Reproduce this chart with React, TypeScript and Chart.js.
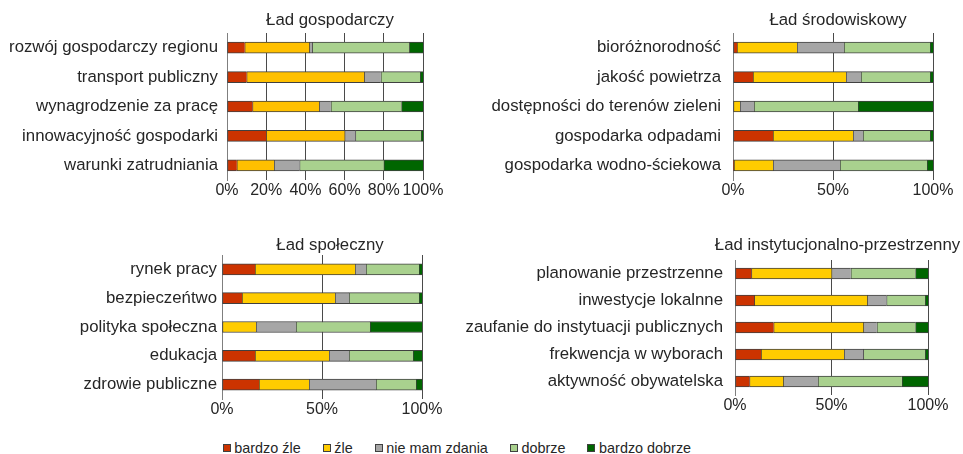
import React, { useEffect, useRef } from 'react';
import { Chart, registerables } from 'chart.js';

Chart.register(...registerables);

const FONT = "'Liberation Sans', Arial, Helvetica, sans-serif";
const TEXT_COLOR = '#262626';

const SERIES_NAMES = ['bardzo źle', 'źle', 'nie mam zdania', 'dobrze', 'bardzo dobrze'];
const COLORS = ['#CC3300', '#FFCC00', '#A6A6A6', '#A9D18E', '#006600'];
const COLORS_ECON = ['#CC3300', '#FFC000', '#A6A6A6', '#A9D18E', '#006600'];

// Ład gospodarczy
const econCategories = [
  'rozwój gospodarczy regionu',
  'transport publiczny',
  'wynagrodzenie za pracę',
  'innowacyjność gospodarki',
  'warunki zatrudniania',
];
const econVeryBad = [9, 10, 13, 20, 5];
const econBad = [33, 60, 34, 40, 19];
const econNeutral = [1.5, 8.5, 6, 5.5, 13];
const econGood = [49.5, 20, 36, 33.5, 43];
const econVeryGood = [7, 1.5, 11, 1, 20];
const econTickStep = 20;

// Ład środowiskowy
const envCategories = [
  'bioróżnorodność',
  'jakość powietrza',
  'dostępności do terenów zieleni',
  'gospodarka odpadami',
  'gospodarka wodno-ściekowa',
];
const envVeryBad = [2, 10, 0, 20, 0.5];
const envBad = [30, 46.5, 3.5, 40, 19.5];
const envNeutral = [23.5, 7.5, 7, 5, 33.5];
const envGood = [43, 34.5, 52, 33.5, 43.5];
const envVeryGood = [1.5, 1.5, 37.5, 1.5, 3];
const envTickStep = 50;

// Ład społeczny
const socCategories = [
  'rynek pracy',
  'bezpieczeńtwo',
  'polityka społeczna',
  'edukacja',
  'zdrowie publiczne',
];
const socVeryBad = [16.5, 10, 0, 16.5, 18.5];
const socBad = [50, 46.5, 17, 37, 25];
const socNeutral = [5.5, 7, 20, 10, 33.5];
const socGood = [26.5, 35, 37, 32, 20];
const socVeryGood = [1.5, 1.5, 26, 4.5, 3];
const socTickStep = 50;

// Ład instytucjonalno-przestrzenny
const instCategories = [
  'planowanie przestrzenne',
  'inwestycje lokalnne',
  'zaufanie do instytuacji publicznych',
  'frekwencja w wyborach',
  'aktywność obywatelska',
];
const instVeryBad = [8.5, 10, 20, 13.5, 7.5];
const instBad = [41.5, 58.5, 46.5, 43, 17.5];
const instNeutral = [10, 10, 7, 10, 18];
const instGood = [33.5, 20, 20, 32, 43.5];
const instVeryGood = [6.5, 1.5, 6.5, 1.5, 13.5];
const instTickStep = 50;

type Box = { left: number; top: number; width: number; height: number };
type Area = { left: number; top: number; right: number; bottom: number };
type PanelSpec = {
  title: string;
  titleX: number;
  titleY: number;
  categories: string[];
  series: number[][];
  colors: string[];
  step: number;
  labelPad: number;
  box: Box;
  area: Area;
};

const titlePlugin = {
  id: 'panelTitle',
  afterDraw(chart: any, _args: any, opts: any) {
    const ctx = chart.ctx;
    ctx.save();
    ctx.font = `16.8px ${FONT}`;
    ctx.fillStyle = TEXT_COLOR;
    ctx.textAlign = 'center';
    ctx.textBaseline = 'middle';
    ctx.fillText(opts.text, opts.x, opts.y);
    ctx.restore();
  },
};

const PANELS: PanelSpec[] = [
  {
    title: 'Ład gospodarczy',
    titleX: 330,
    titleY: 20.7,
    categories: econCategories,
    series: [econVeryBad, econBad, econNeutral, econGood, econVeryGood],
    colors: COLORS_ECON,
    step: econTickStep,
    labelPad: 9,
    box: { left: 0, top: 0, width: 480, height: 225 },
    area: { left: 227, top: 33, right: 423, bottom: 180 },
  },
  {
    title: 'Ład środowiskowy',
    titleX: 838,
    titleY: 20.7,
    categories: envCategories,
    series: [envVeryBad, envBad, envNeutral, envGood, envVeryGood],
    colors: COLORS,
    step: envTickStep,
    labelPad: 12,
    box: { left: 480, top: 0, width: 483, height: 225 },
    area: { left: 733, top: 33, right: 933, bottom: 180 },
  },
  {
    title: 'Ład społeczny',
    titleX: 330,
    titleY: 245.7,
    categories: socCategories,
    series: [socVeryBad, socBad, socNeutral, socGood, socVeryGood],
    colors: COLORS,
    step: socTickStep,
    labelPad: 5,
    box: { left: 0, top: 225, width: 470, height: 205 },
    area: { left: 222, top: 255, right: 422, bottom: 399 },
  },
  {
    title: 'Ład instytucjonalno-przestrzenny',
    titleX: 837.5,
    titleY: 245.7,
    categories: instCategories,
    series: [instVeryBad, instBad, instNeutral, instGood, instVeryGood],
    colors: COLORS,
    step: instTickStep,
    labelPad: 12,
    box: { left: 440, top: 225, width: 523, height: 205 },
    area: { left: 735, top: 260, right: 928, bottom: 395 },
  },
];

function Panel({ spec }: { spec: PanelSpec }) {
  const ref = useRef<HTMLCanvasElement>(null);
  useEffect(() => {
    const { box, area } = spec;
    const XH = 30;
    const yWidth = area.left - box.left;
    const padTop = area.top - box.top;
    const padRight = box.left + box.width - area.right;
    const padBottom = box.top + box.height - area.bottom - XH;
    const chart = new Chart(ref.current as HTMLCanvasElement, {
      type: 'bar',
      data: {
        labels: spec.categories,
        datasets: spec.series.map((d, i) => ({
          label: SERIES_NAMES[i],
          data: d,
          backgroundColor: spec.colors[i],
          borderColor: '#404040',
          borderWidth: { top: 1, bottom: 1, left: 1, right: 0 },
          borderSkipped: false,
          barThickness: 11,
        })),
      },
      options: {
        indexAxis: 'y',
        responsive: false,
        animation: false,
        devicePixelRatio: 1,
        layout: { padding: { left: 0, top: padTop, right: padRight, bottom: padBottom } },
        plugins: {
          legend: { display: false },
          tooltip: { enabled: false },
          panelTitle: { text: spec.title, x: spec.titleX - box.left, y: spec.titleY - box.top },
        } as any,
        scales: {
          x: {
            stacked: true,
            min: 0,
            max: 100,
            ticks: {
              stepSize: spec.step,
              autoSkip: false,
              maxRotation: 0,
              padding: 1,
              color: TEXT_COLOR,
              font: { family: FONT, size: 16 },
              callback: (v: any) => `${v}%`,
            },
            grid: {
              drawTicks: false,
              lineWidth: 1,
              color: (ctx: any) => (ctx.tick && ctx.tick.value === 0 ? 'rgba(0,0,0,0)' : '#4a4a4a'),
            },
            border: { display: false },
            afterFit: (s: any) => {
              s.height = XH;
            },
          },
          y: {
            stacked: true,
            ticks: {
              autoSkip: false,
              padding: spec.labelPad,
              color: TEXT_COLOR,
              font: { family: FONT, size: 16.8 },
            },
            grid: { display: false, drawTicks: false },
            border: { display: true, color: '#7f7f7f', width: 1 },
            afterFit: (s: any) => {
              s.width = yWidth;
            },
          },
        },
      } as any,
      plugins: [titlePlugin as any],
    });
    return () => chart.destroy();
  }, [spec]);
  const { box } = spec;
  return (
    <canvas
      ref={ref}
      width={box.width}
      height={box.height}
      style={{ position: 'absolute', left: box.left, top: box.top, width: box.width, height: box.height }}
    />
  );
}

function Legend() {
  return (
    <div
      style={{
        position: 'absolute',
        left: 222.7,
        top: 440.3,
        height: 16,
        display: 'flex',
        alignItems: 'center',
        gap: 22,
        fontFamily: FONT,
        fontSize: 14.4,
        lineHeight: '16px',
        color: TEXT_COLOR,
        whiteSpace: 'nowrap',
      }}
    >
      {SERIES_NAMES.map((name, i) => (
        <div key={name} style={{ display: 'flex', alignItems: 'center' }}>
          <span
            style={{
              display: 'inline-block',
              width: 8,
              height: 8,
              boxSizing: 'border-box',
              border: '1px solid #404040',
              background: COLORS[i],
              marginRight: 3.6,
            }}
          />
          <span>{name}</span>
        </div>
      ))}
    </div>
  );
}

export default function App() {
  return (
    <div
      style={{
        position: 'absolute',
        left: 0,
        top: 0,
        width: 963,
        height: 454,
        background: '#ffffff',
        overflow: 'hidden',
      }}
    >
      {PANELS.map((p) => (
        <Panel key={p.title} spec={p} />
      ))}
      <Legend />
    </div>
  );
}
